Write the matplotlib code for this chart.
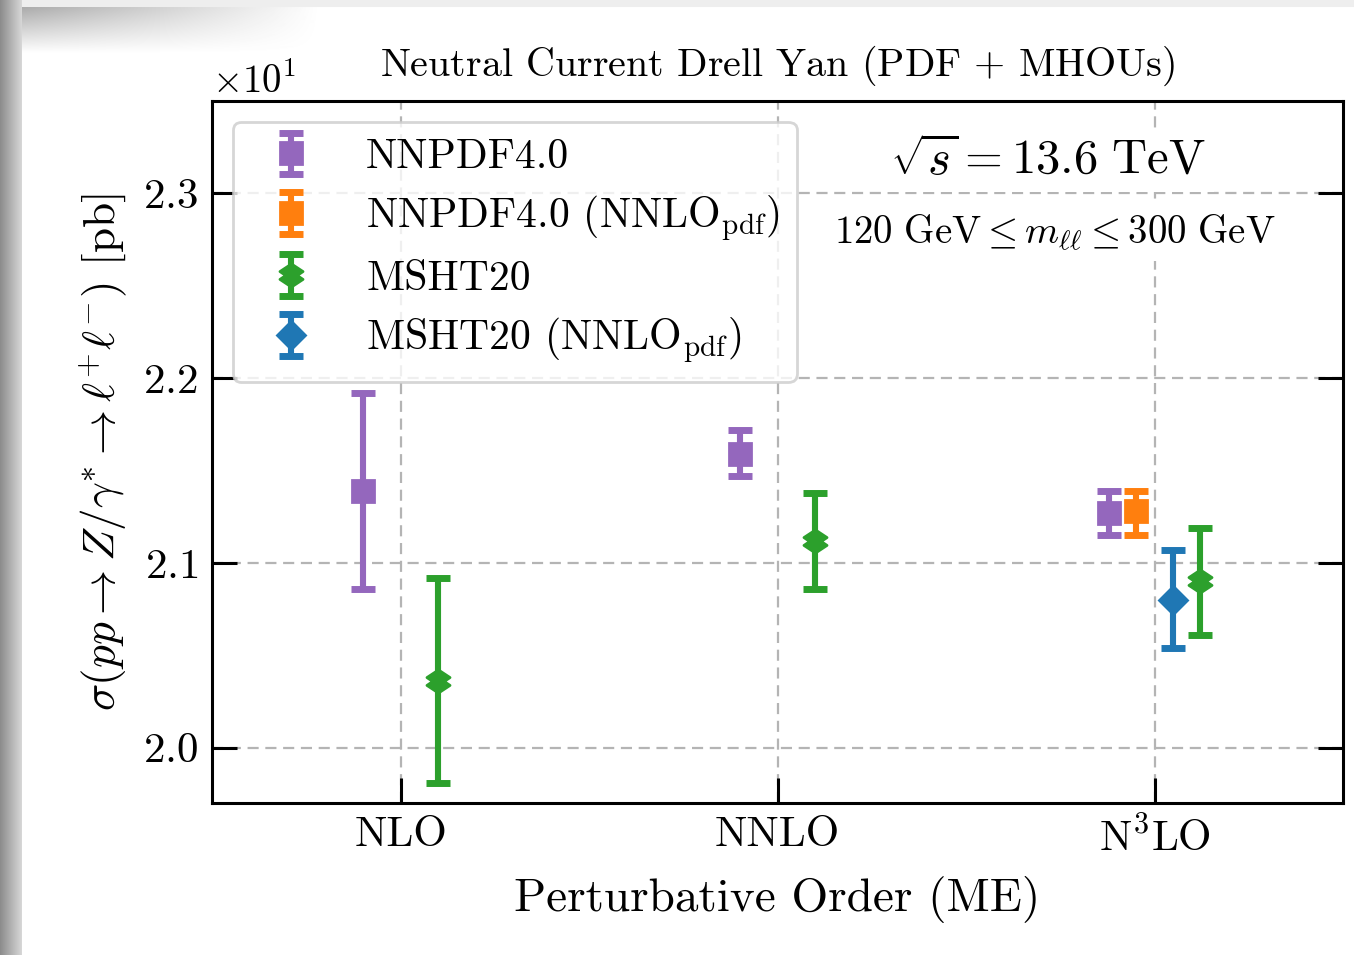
"""
Neutral Current Drell Yan: przekroje czynne dla kolejnych rzędów perturbacyjnych
(PDF + MHOUs), NNPDF4.0 vs MSHT20.
Wyjście: out.png
"""

import numpy as np
import matplotlib
matplotlib.use("Agg")
import matplotlib.pyplot as plt
from matplotlib.path import Path

plt.rcParams["font.family"] = "serif"
plt.rcParams["font.serif"] = ["cmr10"]
plt.rcParams["mathtext.fontset"] = "cm"
plt.rcParams["axes.formatter.use_mathtext"] = True
plt.rcParams["axes.unicode_minus"] = False

# --- dane (pb) ---
ORDERS = ["NLO", "NNLO", r"N$^3$LO"]

nnpdf_order = [0, 1, 2]
nnpdf_shift = [-0.10, -0.10, -0.12]
nnpdf_val = [21.39, 21.59, 21.27]
nnpdf_hi = [21.92, 21.72, 21.39]
nnpdf_lo = [20.86, 21.47, 21.15]

nnpdf_nnlo_order = [2]
nnpdf_nnlo_shift = [-0.05]
nnpdf_nnlo_val = [21.28]
nnpdf_nnlo_hi = [21.39]
nnpdf_nnlo_lo = [21.15]

msht_order = [0, 1, 2]
msht_shift = [0.10, 0.10, 0.12]
msht_val = [20.36, 21.12, 20.90]
msht_hi = [20.92, 21.38, 21.19]
msht_lo = [19.81, 20.86, 20.61]

msht_nnlo_order = [2]
msht_nnlo_shift = [0.05]
msht_nnlo_val = [20.80]
msht_nnlo_hi = [21.07]
msht_nnlo_lo = [20.54]

# podwójny romb (marker dla MSHT20)
DOUBLE_DIAMOND = Path(
    [(0, 0.5), (0.5, 0.17), (0.25, 0), (0.5, -0.17), (0, -0.5),
     (-0.5, -0.17), (-0.25, 0), (-0.5, 0.17), (0, 0.5)],
    [Path.MOVETO] + [Path.LINETO] * 7 + [Path.CLOSEPOLY],
)


def draw(ax, order, shift, val, hi, lo, color, marker, ms, label):
    x = np.array(order) + np.array(shift)
    v = np.array(val)
    yerr = [v - np.array(lo), np.array(hi) - v]
    ax.errorbar(x, v, yerr=yerr, linestyle="none", marker=marker, ms=ms,
                color=color, elinewidth=2.2, capsize=4.2, capthick=2.5,
                label=label, zorder=3)


def shadow(fig):
    # cień zrzutu ekranu przy lewej i górnej krawędzi
    bg = fig.add_axes([0, 0, 1, 1], zorder=-10)
    bg.set_axis_off()
    h, w = 955, 1354
    yy, xx = np.mgrid[0:h, 0:w]
    img = np.ones((h, w))
    img[yy < 8] = 0.93
    corner = np.clip(1 - (yy - 8) / 45, 0, 1) * np.clip(1 - xx / 320, 0, 1)
    img = np.minimum(img, 1 - 0.35 * corner * (yy >= 8))
    left = xx < 22
    img[left] = (0.55 + 0.3 * xx / 22)[left]
    bg.imshow(img, cmap="gray", vmin=0, vmax=1, aspect="auto",
              extent=(0, 1, 0, 1), interpolation="bilinear")
    bg.set_xlim(0, 1)
    bg.set_ylim(0, 1)


def main():
    fig = plt.figure(figsize=(6.77, 4.775), dpi=200)
    shadow(fig)

    ax = fig.add_axes([212 / 1354, 1 - 803 / 955, 1131 / 1354, 702 / 955])

    draw(ax, nnpdf_order, nnpdf_shift, nnpdf_val, nnpdf_hi, nnpdf_lo,
         "tab:purple", "s", 8, "NNPDF4.0")
    draw(ax, nnpdf_nnlo_order, nnpdf_nnlo_shift, nnpdf_nnlo_val,
         nnpdf_nnlo_hi, nnpdf_nnlo_lo, "tab:orange", "s", 8,
         r"NNPDF4.0 (NNLO$_{\mathrm{pdf}}$)")
    draw(ax, msht_order, msht_shift, msht_val, msht_hi, msht_lo,
         "tab:green", DOUBLE_DIAMOND, 8.3, "MSHT20")
    draw(ax, msht_nnlo_order, msht_nnlo_shift, msht_nnlo_val,
         msht_nnlo_hi, msht_nnlo_lo, "tab:blue", "D", 7,
         r"MSHT20 (NNLO$_{\mathrm{pdf}}$)")

    ax.set_xlim(-0.5, 2.5)
    ax.set_ylim(19.7, 23.5)
    ax.set_xticks(range(len(ORDERS)))
    ax.set_xticklabels(ORDERS)
    ax.set_yticks([20, 21, 22, 23])
    ax.ticklabel_format(axis="y", style="sci", scilimits=(1, 1))
    ax.yaxis.get_offset_text().set_fontsize(14)

    ax.tick_params(direction="in", length=9, width=1.1, labelsize=15.5,
                   left=True, right=True, bottom=True, top=False, pad=5)
    for sp in ax.spines.values():
        sp.set_linewidth(1.1)
    ax.grid(True, linestyle=(0, (5, 3)), color="#b4b4b4", linewidth=0.8)
    ax.set_axisbelow(True)

    ax.set_xlabel("Perturbative Order (ME)", fontsize=17, labelpad=6)
    ax.set_ylabel(r"$\sigma(pp \rightarrow Z/\gamma^{*} \rightarrow "
                  r"\ell^{+}\ell^{-})$ [pb]", fontsize=16.3, labelpad=5)
    ax.set_title(r"Neutral Current Drell Yan (PDF $+$ MHOUs)",
                 fontsize=14.4, y=1.0, pad=9)

    box = dict(facecolor="white", edgecolor="none", pad=3)
    ax.text(0.739, 0.915, r"$\sqrt{s} = 13.6\ \mathrm{TeV}$",
            transform=ax.transAxes, ha="center", va="center", fontsize=17.5,
            bbox=box, zorder=4)
    ax.text(0.745, 0.812,
            r"$120\ \mathrm{GeV} \leq m_{\ell\ell} \leq 300\ \mathrm{GeV}$",
            transform=ax.transAxes, ha="center", va="center", fontsize=14,
            bbox=box, zorder=4)

    ax.legend(loc="upper left", fontsize=15, fancybox=True, framealpha=0.8,
              edgecolor="#cccccc", labelspacing=0.42)

    fig.savefig("out.png", dpi=200)
    plt.close(fig)


if __name__ == "__main__":
    main()
